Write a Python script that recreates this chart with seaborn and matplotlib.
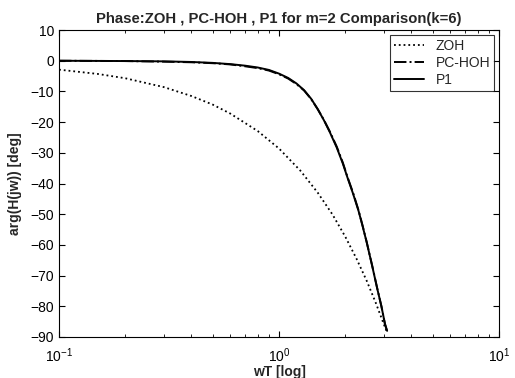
import numpy as np
import pandas as pd
import seaborn as sns
import matplotlib
matplotlib.use("Agg")
from matplotlib import pyplot as plt
from matplotlib.ticker import LogLocator, NullFormatter

# values
zoh_w = [0.1, 0.15, 0.2, 0.3, 0.4, 0.5, 0.6, 0.8, 1.0, 1.25, 1.5, 1.75, 2.0, 2.25, 2.5, 2.75, 3.0, 3.1]
zoh_phase = [-2.9, -4.3, -5.7, -8.6, -11.5, -14.3, -17.2, -22.9, -28.6, -35.8, -43.0, -50.1,
             -57.3, -64.5, -71.6, -78.8, -86.0, -88.5]

p1_w = [0.1, 0.2, 0.3, 0.4, 0.5, 0.6, 0.7, 0.8, 0.9, 1.0, 1.1, 1.2, 1.3, 1.4, 1.5, 1.6, 1.7,
        1.83, 1.95, 2.05, 2.17, 2.3, 2.4, 2.5, 2.65, 2.79, 2.92, 3.03, 3.1]
p1_phase = [0.0, -0.1, -0.2, -0.4, -0.7, -1.1, -1.6, -2.2, -3.0, -4.2, -5.6, -7.4, -9.6,
            -12.4, -15.8, -19.4, -23.2, -28.3, -33.5, -38.2, -43.3, -49.0, -54.0, -59.0,
            -66.8, -74.0, -80.0, -85.7, -88.0]
pchoh_phase = [0.0, -0.1, -0.3, -0.5, -0.8, -1.2, -1.8, -2.4, -3.2, -4.4, -5.8, -7.6, -9.7,
               -12.5, -15.8, -19.3, -23.0, -28.0, -33.2, -38.0, -43.0, -48.8, -53.8, -58.9,
               -66.7, -73.9, -80.0, -85.8, -88.2]

sns.set_style("ticks")
plt.rcParams["font.family"] = ["Liberation Sans", "DejaVu Sans"]
plt.rcParams["xtick.direction"] = "in"
plt.rcParams["ytick.direction"] = "in"

fig = plt.figure(figsize=(5.15, 3.78), dpi=100)
ax = fig.add_axes([0.1146, 0.1085, 0.8544, 0.812])

zoh = pd.DataFrame({"w": zoh_w, "phase": zoh_phase})
p1 = pd.DataFrame({"w": p1_w, "phase": p1_phase})
pc = pd.DataFrame({"w": p1_w, "phase": pchoh_phase})

sns.lineplot(data=zoh, x="w", y="phase", ax=ax, color="black", linestyle=":", linewidth=1.3, label="ZOH")
sns.lineplot(data=pc, x="w", y="phase", ax=ax, color="black", linestyle="-.", linewidth=1.4, label="PC-HOH")
sns.lineplot(data=p1, x="w", y="phase", ax=ax, color="black", linestyle="-", linewidth=1.4, label="P1")

ax.set_xscale("log")
ax.set_xlim(0.1, 10)
ax.set_ylim(-90, 10)
ax.set_yticks(range(-90, 11, 10))
ax.xaxis.set_minor_locator(LogLocator(base=10, subs=np.arange(2, 10)))
ax.xaxis.set_minor_formatter(NullFormatter())
ax.tick_params(which="both", top=True, right=True, labelsize=10, colors="black")
ax.tick_params(which="major", length=4)
ax.tick_params(which="minor", length=2.5)
ax.tick_params(axis="x", which="major", pad=7)
for s in ax.spines.values():
    s.set_visible(True)
    s.set_color("black")
    s.set_linewidth(0.8)

ax.set_title("Phase:ZOH , PC-HOH , P1 for m=2 Comparison(k=6)", fontsize=10.7, fontweight="bold", pad=5)
ax.set_xlabel("wT [log]", fontsize=10, fontweight="bold", labelpad=0)
ax.set_ylabel("arg(H(jw)) [deg]", fontsize=10, fontweight="bold", labelpad=6)

leg = ax.legend(loc="upper right", fontsize=10, frameon=True, fancybox=False, handlelength=2.2,
                borderaxespad=0.35, labelspacing=0.2, borderpad=0.3)
leg.get_frame().set_edgecolor("black")
leg.get_frame().set_linewidth(0.8)

fig.savefig("out.png", dpi=100, facecolor="white")
